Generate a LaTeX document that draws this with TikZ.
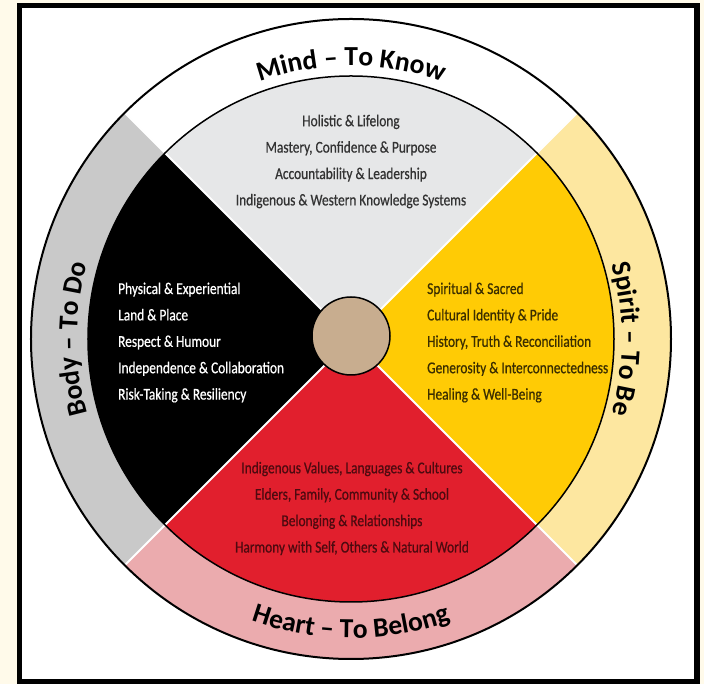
\documentclass[tikz,border=0pt]{standalone}
\usepackage{fontspec}
\setmainfont{Carlito}
\newfontfamily\condfont[FakeStretch=0.81,FakeBold=0.6]{Carlito}
\usetikzlibrary{decorations.text}

\definecolor{cream}{HTML}{FFFAEA}
\definecolor{mindgray}{HTML}{E6E7E8}
\definecolor{spirityellow}{HTML}{FFCB05}
\definecolor{heartred}{HTML}{E11F2D}
\definecolor{bodyring}{HTML}{C9C9C9}
\definecolor{spiritring}{HTML}{FDE7A0}
\definecolor{heartring}{HTML}{EBABAE}
\definecolor{hubtan}{HTML}{C8AD8F}
\definecolor{mindink}{HTML}{333333}
\definecolor{spiritink}{HTML}{3B2E00}
\definecolor{heartink}{HTML}{4E0A10}

\newcommand\ringfont{\fontsize{27.5}{30}\selectfont\bfseries}

\tikzset{
  ringtext/.style={decorate, decoration={text along path, text align=center,
      text={|\ringfont|#1}}},
  quadtext/.style={inner sep=0pt, font=\condfont\fontsize{16.5}{26.4}\selectfont},
  hub/.style={circle, draw, line width=1.5pt, fill=hubtan, minimum size=78pt, inner sep=0pt}
}

\begin{document}
\begin{tikzpicture}[x=1pt,y=1pt]
 \useasboundingbox (-351,339) rectangle (353,-345);
 \fill[cream] (-351,339) rectangle (353,-345);
 \draw[line width=5.5pt,fill=white] (-331.5,333.5) rectangle (346,-342.5);
 % outer ring
 \fill[white] (45:263) arc (45:135:263) -- (135:320) arc (135:45:320) -- cycle;
 \fill[bodyring] (135:263) arc (135:225:263) -- (225:320) arc (225:135:320) -- cycle;
 \fill[heartring] (225:263) arc (225:315:263) -- (315:320) arc (315:225:320) -- cycle;
 \fill[spiritring] (-45:263) arc (-45:45:263) -- (45:320) arc (45:-45:320) -- cycle;
 % quadrants
 \fill[mindgray] (0,0) -- (45:263) arc (45:135:263) -- cycle;
 \fill[black] (0,0) -- (135:263) arc (135:225:263) -- cycle;
 \fill[heartred] (0,0) -- (225:263) arc (225:315:263) -- cycle;
 \fill[spirityellow] (0,0) -- (-45:263) arc (-45:45:263) -- cycle;
 \foreach \a in {45,135,225,315}
   \draw[white,line width=1.8pt] (0,0) -- (\a:320);
 \draw[line width=2pt] (0,0) circle (320);
 \draw[line width=1.5pt] (0,0) circle (263);
 \node[hub] (hub) at (0,3) {};
 % ring labels
 \path[ringtext=Mind – To Know] (150:273) arc (150:30:273);
 \path[ringtext=Body – To Do] (225:274) arc (225:135:274);
 \path[ringtext=Spirit – To Be] (45:271) arc (45:-45:271);
 \path[ringtext=Heart – To Belong] (200:299) arc (200:340:299);
 % quadrant texts
 \node[quadtext,text=mindink,align=center] (mind) at (0,177.5)
   {Holistic \& Lifelong\\Mastery, Confidence \& Purpose\\Accountability \& Leadership\\Indigenous \& Western Knowledge Systems};
 \node[quadtext,text=white,align=left,anchor=west] (body) at (-233,-3.5)
   {Physical \& Experiential\\Land \& Place\\Respect \& Humour\\Independence \& Collaboration\\Risk-Taking \& Resiliency};
 \node[quadtext,text=spiritink,align=left,anchor=west] (spirit) at (76,-3.5)
   {Spiritual \& Sacred\\Cultural Identity \& Pride\\History, Truth \& Reconciliation\\Generosity \& Interconnectedness\\Healing \& Well-Being};
 \node[quadtext,text=heartink,align=center] (heart) at (1,-169.5)
   {Indigenous Values, Languages \& Cultures\\Elders, Family, Community \& School\\Belonging \& Relationships\\Harmony with Self, Others \& Natural World};
\end{tikzpicture}
\end{document}
